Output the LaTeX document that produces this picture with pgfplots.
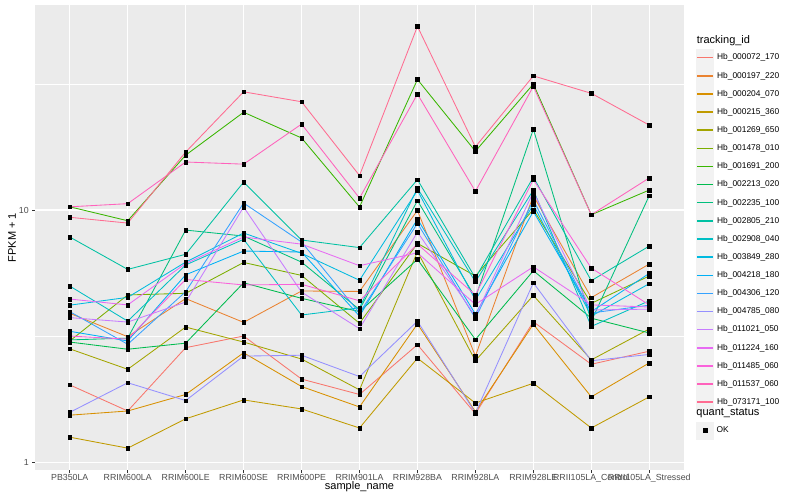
\documentclass[border=0pt]{standalone}
\usepackage{pgfplots}
\pgfplotsset{compat=1.18}
\usepackage{pgfplotstable}
\usepackage{fontspec}
\setmainfont{Liberation Sans}
\definecolor{c1}{HTML}{F8766D}
\definecolor{c2}{HTML}{EA8331}
\definecolor{c3}{HTML}{D89000}
\definecolor{c4}{HTML}{C09B00}
\definecolor{c5}{HTML}{A3A500}
\definecolor{c6}{HTML}{7CAE00}
\definecolor{c7}{HTML}{39B600}
\definecolor{c8}{HTML}{00BB4E}
\definecolor{c9}{HTML}{00BF7D}
\definecolor{c10}{HTML}{00C1A3}
\definecolor{c11}{HTML}{00BFC4}
\definecolor{c12}{HTML}{00BAE0}
\definecolor{c13}{HTML}{00B0F6}
\definecolor{c14}{HTML}{35A2FF}
\definecolor{c15}{HTML}{9590FF}
\definecolor{c16}{HTML}{C77CFF}
\definecolor{c17}{HTML}{E76BF3}
\definecolor{c18}{HTML}{FA62DB}
\definecolor{c19}{HTML}{FF62BC}
\definecolor{c20}{HTML}{FF6C91}
\definecolor{panelbg}{HTML}{EBEBEB}
\definecolor{keybg}{HTML}{F2F2F2}
\definecolor{tickcol}{HTML}{333333}
\definecolor{labcol}{HTML}{4D4D4D}

\pgfplotstableread{
x s1 s2 s3 s4 s5 s6 s7 s8 s9 s10 s11 s12 s13 s14 s15 s16 s17 s18 s19 s20
0 2.03 3.90 1.54 1.26 2.82 3.03 10.3 3.00 3.06 7.82 5.00 4.20 3.31 3.96 1.58 3.75 4.44 3.17 10.3 9.36
1 1.60 3.15 1.60 1.14 2.34 4.61 9.07 2.81 3.11 5.82 3.63 4.51 3.03 2.94 2.07 3.60 4.21 3.08 10.6 8.88
2 2.85 4.46 1.86 1.49 3.44 4.68 16.5 2.97 8.33 6.68 6.06 6.22 5.54 4.75 1.76 4.32 6.14 5.31 15.5 16.97
3 3.17 3.59 2.72 1.77 3.00 6.20 24.4 5.15 7.89 12.9 7.66 8.11 6.88 10.66 2.64 10.28 7.82 5.05 15.2 29.4
4 2.14 4.78 2.00 1.63 2.57 5.51 19.3 4.47 6.22 7.61 3.84 6.74 6.82 7.47 2.66 4.73 7.33 5.08 21.9 26.85
5 1.86 4.76 1.66 1.37 1.94 3.56 10.28 3.96 4.03 7.10 4.10 5.27 3.80 3.91 2.19 3.39 6.02 4.37 11.15 13.7
6 2.93 9.97 3.54 2.59 6.84 7.38 32.9 6.38 10.9 13.2 12.2 11.97 9.21 8.86 3.63 8.18 6.77 7.33 28.8 53.4
7 1.56 2.64 1.59 1.72 2.53 5.48 17.1 3.07 4.50 5.38 5.20 4.40 3.87 3.73 1.57 3.80 4.23 4.61 11.86 17.8
8 3.61 11.4 3.53 2.06 4.59 10.05 31.55 5.75 20.9 13.5 12.0 10.5 9.88 10.96 5.15 11.8 5.96 13.2 30.9 34.0
9 2.45 4.50 1.82 1.37 2.55 4.27 9.58 3.73 3.63 5.25 3.46 3.80 3.96 3.91 2.53 4.02 4.21 5.89 9.58 29.0
10 2.76 6.11 2.48 1.82 3.38 5.48 12.0 3.26 11.4 7.20 4.37 5.11 5.61 4.20 2.68 4.05 4.13 4.21 13.4 21.7
}\datatable

\begin{document}
\begin{tikzpicture}
\fill[white] (0pt,0pt) rectangle (800pt,500pt);
\path[use as bounding box] (0pt,0pt) rectangle (800pt,500pt);
\begin{axis}[
  at={(35pt,30pt)}, anchor=south west,
  width=649pt, height=465pt, scale only axis,
  xmin=-0.6, xmax=10.6,
  ymode=log, ymin=0.934, ymax=64.9,
  axis background/.style={fill=panelbg},
  axis line style={draw=none},
  xtick={0,1,...,10},
  xticklabels={PB350LA,RRIM600LA,RRIM600LE,RRIM600SE,RRIM600PE,RRIM901LA,RRIM928BA,RRIM928LA,RRIM928LE,RRII105LA\_Control,RRII105LA\_Stressed},
  ytick={1,10}, yticklabels={1,10},
  yminorticks=false,
  grid=major,
  major grid style={white, line width=1.1pt},
  extra y ticks={3.16228,31.6228},
  extra y tick labels={},
  extra y tick style={grid=major, major grid style={white, line width=0.55pt}, major tick length=0pt},
  tick align=outside, major tick length=2.75pt,
  xtick pos=bottom, ytick pos=left,
  tick style={draw=tickcol, line width=0.55pt},
  /pgf/number format/assume math mode=true,
  ticklabel style={font=\fontsize{8.8}{10}\selectfont, text=labcol},
  xticklabel style={yshift=2.3pt},
  xlabel={sample\_name}, ylabel={FPKM + 1},
  every axis x label/.style={at={(axis description cs:0.5,-0.0366)}, anchor=center, font=\fontsize{11}{13}\selectfont},
  every axis y label/.style={at={(axis description cs:-0.0354,0.5)}, anchor=center, rotate=90, font=\fontsize{11}{13}\selectfont},
  legend style={at={(axis description cs:1.0185,0.9433)}, anchor=north west, draw=none, fill=none, inner sep=0pt, outer sep=0pt, row sep=0pt, column sep=3pt, nodes={inner sep=0pt, minimum height=17.28pt, font=\fontsize{8.4}{10}\selectfont, text=black}},
  legend cell align=left,
  legend image code/.code={\fill[keybg] (0pt,-8.64pt) rectangle (17.28pt,8.64pt); \draw[#1, line width=1.5pt] (0.6pt,0pt) -- (16.68pt,0pt);},
]
\addlegendimage{empty legend}
\addlegendentry{\hspace{-20.28pt}\fontsize{11}{13}\selectfont tracking\_id}
\addplot[c1, line width=0.85pt, mark=none] table[x=x,y=s1]{\datatable};
\addlegendentry{Hb\_000072\_170}
\addplot[c2, line width=0.85pt, mark=none] table[x=x,y=s2]{\datatable};
\addlegendentry{Hb\_000197\_220}
\addplot[c3, line width=0.85pt, mark=none] table[x=x,y=s3]{\datatable};
\addlegendentry{Hb\_000204\_070}
\addplot[c4, line width=0.85pt, mark=none] table[x=x,y=s4]{\datatable};
\addlegendentry{Hb\_000215\_360}
\addplot[c5, line width=0.85pt, mark=none] table[x=x,y=s5]{\datatable};
\addlegendentry{Hb\_001269\_650}
\addplot[c6, line width=0.85pt, mark=none] table[x=x,y=s6]{\datatable};
\addlegendentry{Hb\_001478\_010}
\addplot[c7, line width=0.85pt, mark=none] table[x=x,y=s7]{\datatable};
\addlegendentry{Hb\_001691\_200}
\addplot[c8, line width=0.85pt, mark=none] table[x=x,y=s8]{\datatable};
\addlegendentry{Hb\_002213\_020}
\addplot[c9, line width=0.85pt, mark=none] table[x=x,y=s9]{\datatable};
\addlegendentry{Hb\_002235\_100}
\addplot[c10, line width=0.85pt, mark=none] table[x=x,y=s10]{\datatable};
\addlegendentry{Hb\_002805\_210}
\addplot[c11, line width=0.85pt, mark=none] table[x=x,y=s11]{\datatable};
\addlegendentry{Hb\_002908\_040}
\addplot[c12, line width=0.85pt, mark=none] table[x=x,y=s12]{\datatable};
\addlegendentry{Hb\_003849\_280}
\addplot[c13, line width=0.85pt, mark=none] table[x=x,y=s13]{\datatable};
\addlegendentry{Hb\_004218\_180}
\addplot[c14, line width=0.85pt, mark=none] table[x=x,y=s14]{\datatable};
\addlegendentry{Hb\_004306\_120}
\addplot[c15, line width=0.85pt, mark=none] table[x=x,y=s15]{\datatable};
\addlegendentry{Hb\_004785\_080}
\addplot[c16, line width=0.85pt, mark=none] table[x=x,y=s16]{\datatable};
\addlegendentry{Hb\_011021\_050}
\addplot[c17, line width=0.85pt, mark=none] table[x=x,y=s17]{\datatable};
\addlegendentry{Hb\_011224\_160}
\addplot[c18, line width=0.85pt, mark=none] table[x=x,y=s18]{\datatable};
\addlegendentry{Hb\_011485\_060}
\addplot[c19, line width=0.85pt, mark=none] table[x=x,y=s19]{\datatable};
\addlegendentry{Hb\_011537\_060}
\addplot[c20, line width=0.85pt, mark=none] table[x=x,y=s20]{\datatable};
\addlegendentry{Hb\_073171\_100}
\pgfplotsinvokeforeach{1,...,20}{
  \addplot[only marks, mark=square*, mark size=1.8pt, black, forget plot] table[x=x,y=s#1]{\datatable};
}
\end{axis}
\begin{axis}[
  at={(35pt,30pt)}, anchor=south west,
  width=649pt, height=465pt, scale only axis,
  hide axis, xmin=0, xmax=1, ymin=0, ymax=1,
  legend style={at={(axis description cs:1.0185,0.1411)}, anchor=north west, draw=none, fill=none, inner sep=0pt, outer sep=0pt, row sep=0pt, column sep=3pt, nodes={inner sep=0pt, minimum height=17.28pt, font=\fontsize{8.4}{10}\selectfont, text=black}},
  legend cell align=left,
]
\addlegendimage{empty legend}
\addlegendentry{\hspace{-20.28pt}\fontsize{11}{13}\selectfont quant\_status}
\addlegendimage{legend image code/.code={\fill[keybg] (0pt,-8.64pt) rectangle (17.28pt,8.64pt); \fill[black] (6.74pt,-1.9pt) rectangle (10.54pt,1.9pt);}}
\addlegendentry{OK}
\end{axis}
\end{tikzpicture}
\end{document}
